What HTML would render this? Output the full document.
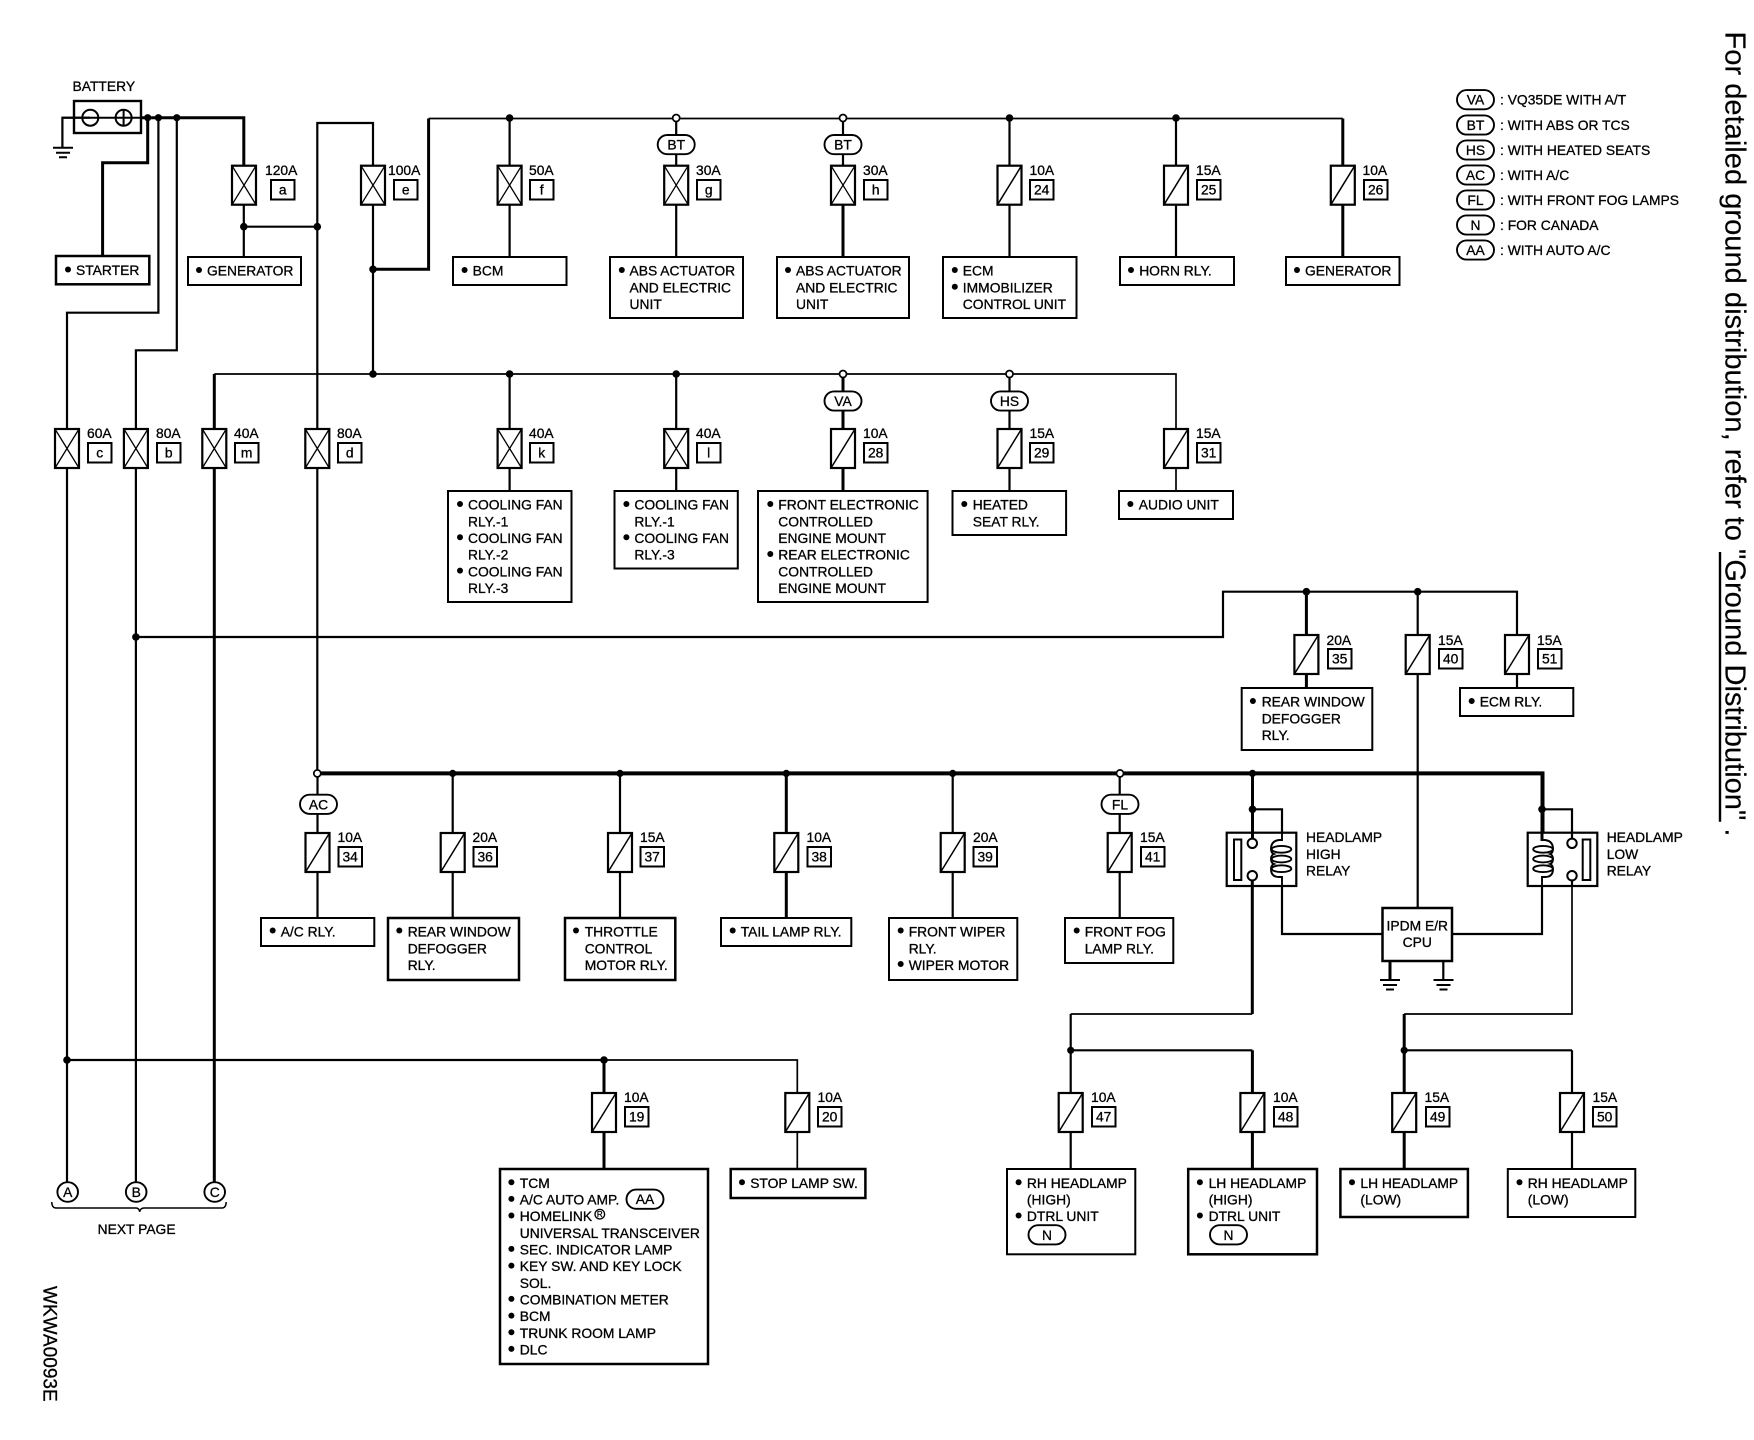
<!DOCTYPE html>
<html><head><meta charset="utf-8"><title>Wiring</title>
<style>
html,body{margin:0;padding:0;background:#fff}
svg{display:block}
text{font-family:"Liberation Sans",Arial,sans-serif;font-size:13.85px;fill:#000;stroke:#000;stroke-width:.3}
.w{fill:none;stroke:#000}
.s1{stroke-width:1.7}.s2{stroke-width:2.2}.s3{stroke-width:3}.s4{stroke-width:4}
.b{fill:#fff;stroke:#000;stroke-width:2}
.t{fill:#fff;stroke:#000;stroke-width:2.5}
.d{fill:#000}
</style></head><body>
<svg width="1754" height="1440" viewBox="0 0 1754 1440" xmlns="http://www.w3.org/2000/svg">
<defs>
<g id="x"><rect x="-12" y="0" width="24" height="39" fill="#fff" stroke="#000" stroke-width="2.2"/><path d="M-12 0L12 39M12 0L-12 39" stroke="#000" stroke-width="1.3"/></g>
<g id="s"><rect x="-12" y="0" width="24" height="39" fill="#fff" stroke="#000" stroke-width="2.2"/><path d="M12 0L-12 39" stroke="#000" stroke-width="1.5"/></g>
<g id="n"><rect x="0" y="0" width="23.5" height="19.5" fill="#fff" stroke="#000" stroke-width="2"/></g>
<g id="ov"><rect x="-18.5" y="-9.6" width="37" height="19.2" rx="9.6" fill="#fff" stroke="#000" stroke-width="1.9"/></g>
<g id="gnd"><path d="M-10 0H10M-7 5H7M-4 9.5H4" stroke="#000" stroke-width="2" fill="none"/></g>
</defs>

<!-- wires -->
<path class="w s2" d="M90 117.7H62.4V147"/>
<path class="w s3" d="M141 117.7H243.8V166"/>
<path class="w s3" d="M147.7 117.7V162.7H102.6V256"/>
<path class="w s2" d="M158.4 117.7V312.7H67V1182"/>
<path class="w s2" d="M176.8 117.7V350.3H135.9V1182"/>
<path class="w s2" d="M243.8 204V257"/>
<path class="w s2" d="M243.8 226.7H317.3"/>
<path class="w s2" d="M373 166V123H317.3V773"/>
<path class="w s2" d="M373 204V374"/>
<path class="w s3" d="M373 269.3H428.6V118.5"/>
<path class="w s1" d="M428.6 118.5H1342.8"/>
<path class="w s3" d="M1342.8 118.5V257"/>
<path class="w s2" d="M509.6 118.5V257M676.2 118.5V257M1009.5 118.5V257M1176 118.5V257"/>
<path class="w s2" d="M843 118.5V166"/>
<path class="w s3" d="M843 204V257"/>
<path class="w s1" d="M214.3 374H1176V491"/>
<path class="w s3" d="M214.3 374V1182"/>
<path class="w s2" d="M509.6 374V491M676.2 374V491M1009.5 374V491"/>
<path class="w s3" d="M843 374V491"/>
<path class="w s2" d="M135.9 637H1223V591.7H1517V688"/>
<path class="w s3" d="M1306.4 591.7V688"/>
<path class="w s2" d="M1417.7 591.7V908"/>
<path class="w s4" d="M317.3 773.4H1542.5V842"/>
<path class="w s3" d="M1252.5 773.4V843"/>
<path class="w s2" d="M317.5 773V918M452.7 773V918M620 773V918M952.7 773V918M1119.7 773V918"/>
<path class="w s3" d="M786.3 773V918"/>
<path class="w s2" d="M67 1060H604"/>
<path class="w s1" d="M604 1060H797.3V1169"/>
<path class="w s3" d="M604 1060V1169"/>
<path class="w s3" d="M1252.3 880V1014"/>
<path class="w s1" d="M1252.3 1014H1070.7"/>
<path class="w s2" d="M1070.7 1014V1169"/>
<path class="w s2" d="M1070.7 1050.3H1252.4"/>
<path class="w s3" d="M1252.4 1050.3V1169"/>
<path class="w s1" d="M1572 880V1014H1404.2"/>
<path class="w s3" d="M1404.2 1014V1169"/>
<path class="w s2" d="M1404.2 1050.3H1572"/>
<path class="w s2" d="M1572 1050.3V1169"/>
<path class="w s2" d="M1252.5 809.3H1282V842"/>
<path class="w s2" d="M1542 809.3H1572V843"/>
<path class="w s2" d="M1282 877V934H1383M1452 934H1542V877"/>
<path class="w s3" d="M1390 961V980"/>
<path class="w s2" d="M1443.3 961V980"/>

<!-- junctions -->
<g class="d">
<circle cx="147.7" cy="117.7" r="3.6"/><circle cx="158.4" cy="117.7" r="3.6"/><circle cx="176.8" cy="117.7" r="3.6"/>
<circle cx="243.8" cy="226.7" r="3.8"/><circle cx="317.3" cy="226.7" r="3.8"/><circle cx="373" cy="269.3" r="3.8"/>
<circle cx="373" cy="374" r="3.8"/><circle cx="509.6" cy="118" r="3.8"/><circle cx="1009.5" cy="118" r="3.8"/><circle cx="1176" cy="118" r="3.8"/>
<circle cx="509.6" cy="374" r="3.8"/><circle cx="676.2" cy="374" r="3.8"/>
<circle cx="135.9" cy="637" r="3.8"/><circle cx="1306.4" cy="591.7" r="3.8"/><circle cx="1417.7" cy="591.7" r="3.8"/>
<circle cx="452.7" cy="773.4" r="3.6"/><circle cx="620" cy="773.4" r="3.6"/><circle cx="786.3" cy="773.4" r="3.6"/><circle cx="952.7" cy="773.4" r="3.6"/><circle cx="1252.5" cy="773.4" r="3.6"/>
<circle cx="1252.5" cy="809.3" r="3.8"/><circle cx="1542" cy="809.3" r="3.8"/>
<circle cx="67" cy="1060" r="3.8"/><circle cx="604" cy="1060" r="3.8"/><circle cx="1070.7" cy="1050.3" r="3.6"/><circle cx="1404.2" cy="1050.3" r="3.6"/>
</g>
<g fill="#fff" stroke="#000" stroke-width="1.7">
<circle cx="676.2" cy="118" r="3.5"/><circle cx="843" cy="118" r="3.5"/><circle cx="843" cy="374" r="3.5"/><circle cx="1009.5" cy="374" r="3.5"/><circle cx="317.3" cy="773.4" r="3.5"/><circle cx="1120" cy="773.4" r="3.5"/>
</g>

<!-- battery -->
<text x="72.5" y="91">BATTERY</text>
<rect x="74" y="101" width="67" height="32" fill="none" stroke="#000" stroke-width="2.4"/>
<path d="M62.4 117.7H141" stroke="#000" stroke-width="2"/>
<circle cx="90.3" cy="117.7" r="8" fill="none" stroke="#000" stroke-width="2"/>
<circle cx="123.6" cy="117.7" r="8" fill="none" stroke="#000" stroke-width="2"/>
<path d="M123.6 109.7V125.7" stroke="#000" stroke-width="2"/>
<use href="#gnd" x="63" y="147.7"/>

<!-- fuses -->
<use href="#x" x="244" y="165.7"/><use href="#x" x="373" y="165.7"/><use href="#x" x="509.6" y="165.7"/><use href="#x" x="676.2" y="165.7"/><use href="#x" x="843" y="165.7"/>
<use href="#s" x="1009.5" y="165.7"/><use href="#s" x="1176" y="165.7"/><use href="#s" x="1342.8" y="165.7"/>
<use href="#x" x="67" y="429"/><use href="#x" x="135.9" y="429"/><use href="#x" x="214.3" y="429"/><use href="#x" x="317.3" y="429"/><use href="#x" x="509.6" y="429"/><use href="#x" x="676.2" y="429"/>
<use href="#s" x="843" y="429"/><use href="#s" x="1009.5" y="429"/><use href="#s" x="1176" y="429"/>
<use href="#s" x="1306.4" y="635"/><use href="#s" x="1417.7" y="635"/><use href="#s" x="1517" y="635"/>
<use href="#s" x="317.5" y="833"/><use href="#s" x="452.7" y="833"/><use href="#s" x="620" y="833"/><use href="#s" x="786.3" y="833"/><use href="#s" x="952.7" y="833"/><use href="#s" x="1119.7" y="833"/>
<use href="#s" x="604" y="1093"/><use href="#s" x="797.3" y="1093"/><use href="#s" x="1070.7" y="1093"/><use href="#s" x="1252.4" y="1093"/><use href="#s" x="1404.2" y="1093"/><use href="#s" x="1572" y="1093"/>

<!-- fuse label boxes -->
<use href="#n" x="271" y="180"/><use href="#n" x="394" y="180"/><use href="#n" x="530" y="180"/><use href="#n" x="697" y="180"/><use href="#n" x="864" y="180"/><use href="#n" x="1030" y="180"/><use href="#n" x="1197" y="180"/><use href="#n" x="1364" y="180"/>
<use href="#n" x="88" y="443"/><use href="#n" x="157" y="443"/><use href="#n" x="235" y="443"/><use href="#n" x="338" y="443"/><use href="#n" x="530" y="443"/><use href="#n" x="697" y="443"/><use href="#n" x="864" y="443"/><use href="#n" x="1030" y="443"/><use href="#n" x="1197" y="443"/>
<use href="#n" x="1328" y="649"/><use href="#n" x="1439" y="649"/><use href="#n" x="1538" y="649"/>
<use href="#n" x="338.5" y="847"/><use href="#n" x="473.5" y="847"/><use href="#n" x="640.5" y="847"/><use href="#n" x="807.5" y="847"/><use href="#n" x="973.5" y="847"/><use href="#n" x="1141" y="847"/>
<use href="#n" x="625" y="1107"/><use href="#n" x="818" y="1107"/><use href="#n" x="1092" y="1107"/><use href="#n" x="1274" y="1107"/><use href="#n" x="1426" y="1107"/><use href="#n" x="1593" y="1107"/>

<!-- amp labels -->
<text x="265" y="175">120A</text><text x="388" y="175">100A</text><text x="529" y="175">50A</text><text x="696" y="175">30A</text><text x="863" y="175">30A</text><text x="1029.5" y="175">10A</text><text x="1196" y="175">15A</text><text x="1362.5" y="175">10A</text>
<text x="87" y="438">60A</text><text x="156" y="438">80A</text><text x="234" y="438">40A</text><text x="337" y="438">80A</text><text x="529" y="438">40A</text><text x="696" y="438">40A</text><text x="863" y="438">10A</text><text x="1029.5" y="438">15A</text><text x="1196" y="438">15A</text>
<text x="1326.5" y="645">20A</text><text x="1438" y="645">15A</text><text x="1537" y="645">15A</text>
<text x="337.5" y="842">10A</text><text x="472.5" y="842">20A</text><text x="640" y="842">15A</text><text x="806.5" y="842">10A</text><text x="973" y="842">20A</text><text x="1140" y="842">15A</text>
<text x="624" y="1102">10A</text><text x="817.5" y="1102">10A</text><text x="1091" y="1102">10A</text><text x="1273" y="1102">10A</text><text x="1424.5" y="1102">15A</text><text x="1592.5" y="1102">15A</text>

<!-- fuse label ids -->
<g>
<text x="282.7" y="194.5" text-anchor="middle">a</text><text x="405.7" y="194.5" text-anchor="middle">e</text><text x="541.7" y="194.5" text-anchor="middle">f</text><text x="708.7" y="194.5" text-anchor="middle">g</text><text x="875.7" y="194.5" text-anchor="middle">h</text><text x="1041.7" y="194.5" text-anchor="middle">24</text><text x="1208.7" y="194.5" text-anchor="middle">25</text><text x="1375.7" y="194.5" text-anchor="middle">26</text>
<text x="99.7" y="457.5" text-anchor="middle">c</text><text x="168.7" y="457.5" text-anchor="middle">b</text><text x="246.7" y="457.5" text-anchor="middle">m</text><text x="349.7" y="457.5" text-anchor="middle">d</text><text x="541.7" y="457.5" text-anchor="middle">k</text><text x="708.7" y="457.5" text-anchor="middle">l</text><text x="875.7" y="457.5" text-anchor="middle">28</text><text x="1041.7" y="457.5" text-anchor="middle">29</text><text x="1208.7" y="457.5" text-anchor="middle">31</text>
<text x="1339.7" y="663.5" text-anchor="middle">35</text><text x="1450.7" y="663.5" text-anchor="middle">40</text><text x="1549.7" y="663.5" text-anchor="middle">51</text>
<text x="350.2" y="861.5" text-anchor="middle">34</text><text x="485.2" y="861.5" text-anchor="middle">36</text><text x="652.2" y="861.5" text-anchor="middle">37</text><text x="819.2" y="861.5" text-anchor="middle">38</text><text x="985.2" y="861.5" text-anchor="middle">39</text><text x="1152.7" y="861.5" text-anchor="middle">41</text>
<text x="636.7" y="1121.5" text-anchor="middle">19</text><text x="829.7" y="1121.5" text-anchor="middle">20</text><text x="1103.7" y="1121.5" text-anchor="middle">47</text><text x="1285.7" y="1121.5" text-anchor="middle">48</text><text x="1437.7" y="1121.5" text-anchor="middle">49</text><text x="1604.7" y="1121.5" text-anchor="middle">50</text>
</g>

<!-- ovals -->
<use href="#ov" x="676.2" y="144.6"/><text x="676.2" y="149.6" text-anchor="middle">BT</text>
<use href="#ov" x="843" y="144.6"/><text x="843" y="149.6" text-anchor="middle">BT</text>
<use href="#ov" x="843" y="401"/><text x="843" y="406" text-anchor="middle">VA</text>
<use href="#ov" x="1009.5" y="401"/><text x="1009.5" y="406" text-anchor="middle">HS</text>
<use href="#ov" x="318.5" y="804.3"/><text x="318.5" y="809.3" text-anchor="middle">AC</text>
<use href="#ov" x="1120" y="804.3"/><text x="1120" y="809.3" text-anchor="middle">FL</text>

<!-- boxes row 1 -->
<rect class="t" x="56" y="256" width="93.3" height="28.3"/>
<rect class="b" x="188" y="257" width="113" height="28"/>
<rect class="b" x="453" y="257" width="113.5" height="28"/>
<rect class="b" x="610" y="257" width="133" height="61"/>
<rect class="b" x="777" y="257" width="132" height="61"/>
<rect class="b" x="943" y="257" width="133.5" height="61"/>
<rect class="b" x="1120" y="257" width="114" height="28"/>
<rect class="b" x="1286" y="257" width="113.5" height="28"/>
<g transform="translate(0,-1)">
<g class="d">
<circle cx="68" cy="270.5" r="3"/><circle cx="199" cy="271" r="3"/><circle cx="464.6" cy="271" r="3"/><circle cx="621.8" cy="271" r="3"/><circle cx="788" cy="271" r="3"/><circle cx="954.8" cy="271" r="3"/><circle cx="954.8" cy="287.7" r="3"/><circle cx="1131" cy="271" r="3"/><circle cx="1297" cy="271" r="3"/>
</g>
<text x="76" y="276">STARTER</text>
<text x="207" y="276.7">GENERATOR</text>
<text x="472.6" y="276.7">BCM</text>
<text x="629.5" y="276.7">ABS ACTUATOR</text><text x="629.5" y="293.4">AND ELECTRIC</text><text x="629.5" y="310">UNIT</text>
<text x="796" y="276.7">ABS ACTUATOR</text><text x="796" y="293.4">AND ELECTRIC</text><text x="796" y="310">UNIT</text>
<text x="962.8" y="276.7">ECM</text><text x="962.8" y="293.4">IMMOBILIZER</text><text x="962.8" y="310">CONTROL UNIT</text>
<text x="1139.2" y="276.7">HORN RLY.</text>
<text x="1305" y="276.7">GENERATOR</text>
</g>

<!-- boxes row 2 -->
<rect class="b" x="448" y="491" width="123.5" height="111"/>
<rect class="b" x="614.5" y="491" width="123.3" height="77.5"/>
<rect class="b" x="758" y="491" width="169.6" height="111"/>
<rect class="b" x="952.5" y="491" width="113.6" height="44"/>
<rect class="b" x="1119" y="491" width="114" height="28"/>
<g transform="translate(0,-1)">
<g class="d">
<circle cx="460" cy="505" r="3"/><circle cx="460" cy="538.3" r="3"/><circle cx="460" cy="571.6" r="3"/>
<circle cx="626.4" cy="505" r="3"/><circle cx="626.4" cy="538.3" r="3"/>
<circle cx="770.3" cy="505" r="3"/><circle cx="770.3" cy="555" r="3"/>
<circle cx="964.3" cy="505" r="3"/><circle cx="1130.4" cy="505" r="3"/>
</g>
<text x="468" y="510.7">COOLING FAN</text><text x="468" y="527.4">RLY.-1</text><text x="468" y="544">COOLING FAN</text><text x="468" y="560.7">RLY.-2</text><text x="468" y="577.4">COOLING FAN</text><text x="468" y="594">RLY.-3</text>
<text x="634.4" y="510.7">COOLING FAN</text><text x="634.4" y="527.4">RLY.-1</text><text x="634.4" y="544">COOLING FAN</text><text x="634.4" y="560.7">RLY.-3</text>
<text x="778.3" y="510.7">FRONT ELECTRONIC</text><text x="778.3" y="527.4">CONTROLLED</text><text x="778.3" y="544">ENGINE MOUNT</text><text x="778.3" y="560.7">REAR ELECTRONIC</text><text x="778.3" y="577.4">CONTROLLED</text><text x="778.3" y="594">ENGINE MOUNT</text>
<text x="972.8" y="510.7">HEATED</text><text x="972.8" y="527.4">SEAT RLY.</text>
<text x="1138.8" y="510.7">AUDIO UNIT</text>
</g>

<!-- boxes row 3 -->
<rect class="b" x="1241.7" y="688" width="130.6" height="62"/>
<rect class="b" x="1460" y="688" width="113.3" height="28"/>
<g transform="translate(0,-1)">
<circle class="d" cx="1252.9" cy="702" r="3"/><circle class="d" cx="1471.7" cy="702" r="3"/>
<text x="1261.7" y="707.7">REAR WINDOW</text><text x="1261.7" y="724.4">DEFOGGER</text><text x="1261.7" y="741">RLY.</text>
<text x="1479.7" y="707.7">ECM RLY.</text>
</g>

<!-- boxes row 4 -->
<rect class="b" x="261" y="918" width="113.3" height="28"/>
<rect class="t" x="388" y="918" width="131" height="62"/>
<rect class="t" x="565" y="918" width="110.3" height="62"/>
<rect class="b" x="721" y="918" width="130.3" height="28"/>
<rect class="b" x="889" y="918" width="128.3" height="62"/>
<rect class="b" x="1065" y="918" width="108.3" height="45"/>
<g transform="translate(0,-1)">
<g class="d">
<circle cx="272.7" cy="931.5" r="3"/><circle cx="399.3" cy="931.5" r="3"/><circle cx="576" cy="931.5" r="3"/><circle cx="732.7" cy="931.5" r="3"/><circle cx="900.7" cy="931.5" r="3"/><circle cx="900.7" cy="965" r="3"/><circle cx="1076.7" cy="931.5" r="3"/>
</g>
<text x="280.7" y="937.7">A/C RLY.</text>
<text x="407.7" y="937.7">REAR WINDOW</text><text x="407.7" y="954.4">DEFOGGER</text><text x="407.7" y="971">RLY.</text>
<text x="584.7" y="937.7">THROTTLE</text><text x="584.7" y="954.4">CONTROL</text><text x="584.7" y="971">MOTOR RLY.</text>
<text x="740.7" y="937.7">TAIL LAMP RLY.</text>
<text x="908.7" y="937.7">FRONT WIPER</text><text x="908.7" y="954.4">RLY.</text><text x="908.7" y="971">WIPER MOTOR</text>
<text x="1084.7" y="937.7">FRONT FOG</text><text x="1084.7" y="954.4">LAMP RLY.</text>
</g>

<!-- relays -->
<rect x="1226.7" y="832.7" width="69.6" height="53.3" fill="#fff" stroke="#000" stroke-width="2.2"/>
<rect x="1234" y="839.5" width="7.3" height="40.5" fill="#fff" stroke="#000" stroke-width="2"/>
<path class="w s3" d="M1252.5 832V839"/>
<circle cx="1252.3" cy="843.3" r="4.7" fill="#fff" stroke="#000" stroke-width="2"/>
<circle cx="1252.3" cy="875.7" r="4.7" fill="#fff" stroke="#000" stroke-width="2"/>
<path class="w s3" d="M1252.3 880V887"/>
<g fill="none" stroke="#000" stroke-width="1.9">
<path d="M1282 832V840H1279Q1271 841 1271 849Q1271 853 1274 854Q1271 855 1271 859Q1271 863 1274 864Q1271 865 1271 869Q1271 877 1279 877H1282V887"/>
<ellipse cx="1281.5" cy="849.3" rx="9.8" ry="3.4"/><ellipse cx="1281.5" cy="859" rx="9.8" ry="3.4"/><ellipse cx="1281.5" cy="868.7" rx="9.8" ry="3.4"/>
</g>
<text x="1306" y="842.2">HEADLAMP</text><text x="1306" y="858.9">HIGH</text><text x="1306" y="875.5">RELAY</text>

<rect x="1527.7" y="832.7" width="69.6" height="53.3" fill="#fff" stroke="#000" stroke-width="2.2"/>
<rect x="1582.7" y="839.5" width="7.6" height="40.5" fill="#fff" stroke="#000" stroke-width="2"/>
<path class="w s3" d="M1542 832V841"/><path class="w s2" d="M1572 832V839M1572 880V887"/>
<circle cx="1572" cy="843.3" r="4.7" fill="#fff" stroke="#000" stroke-width="2"/>
<circle cx="1572" cy="875.7" r="4.7" fill="#fff" stroke="#000" stroke-width="2"/>
<g fill="none" stroke="#000" stroke-width="1.9">
<path d="M1542 840H1545Q1553 841 1553 849Q1553 853 1550 854Q1553 855 1553 859Q1553 863 1550 864Q1553 865 1553 869Q1553 877 1545 877H1542V887"/>
<ellipse cx="1543" cy="849.3" rx="9.8" ry="3.4"/><ellipse cx="1543" cy="859" rx="9.8" ry="3.4"/><ellipse cx="1543" cy="868.7" rx="9.8" ry="3.4"/>
</g>
<text x="1606.7" y="842.2">HEADLAMP</text><text x="1606.7" y="858.9">LOW</text><text x="1606.7" y="875.5">RELAY</text>

<!-- IPDM -->
<rect class="t" x="1382.5" y="908" width="69.5" height="53"/>
<text x="1417.3" y="930.5" text-anchor="middle">IPDM E/R</text><text x="1417.3" y="947" text-anchor="middle">CPU</text>
<use href="#gnd" x="1390" y="980"/><use href="#gnd" x="1443.5" y="980"/>

<!-- bottom boxes -->
<rect class="t" x="500" y="1169" width="208" height="195"/>
<rect class="t" x="730.7" y="1169" width="134.7" height="29"/>
<rect class="b" x="1007" y="1169" width="128.3" height="85.3"/>
<rect class="t" x="1188.2" y="1169" width="128.8" height="85.3"/>
<rect class="t" x="1340.4" y="1169" width="127.5" height="48"/>
<rect class="b" x="1507.8" y="1169" width="127.5" height="48"/>
<g transform="translate(0,-0.8)">
<g class="d">
<circle cx="511.4" cy="1183" r="3"/><circle cx="511.4" cy="1199.7" r="3"/><circle cx="511.4" cy="1216.3" r="3"/><circle cx="511.4" cy="1249.7" r="3"/><circle cx="511.4" cy="1266.4" r="3"/><circle cx="511.4" cy="1299.7" r="3"/><circle cx="511.4" cy="1316.4" r="3"/><circle cx="511.4" cy="1333" r="3"/><circle cx="511.4" cy="1349.7" r="3"/>
<circle cx="742" cy="1183" r="3"/><circle cx="1018.6" cy="1183" r="3"/><circle cx="1018.6" cy="1216.3" r="3"/><circle cx="1199.9" cy="1183" r="3"/><circle cx="1199.9" cy="1216.3" r="3"/><circle cx="1352" cy="1183" r="3"/><circle cx="1519.5" cy="1183" r="3"/>
</g>
<text x="519.8" y="1188.7">TCM</text>
<text x="519.8" y="1205.4">A/C AUTO AMP.</text>
<text x="519.8" y="1222">HOMELINK</text>
<circle cx="599.8" cy="1215" r="4.8" fill="none" stroke="#000" stroke-width="1.3"/><text x="599.8" y="1218" text-anchor="middle" style="font-size:8px">R</text>
<text x="519.8" y="1238.7">UNIVERSAL TRANSCEIVER</text>
<text x="519.8" y="1255.4">SEC. INDICATOR LAMP</text>
<text x="519.8" y="1272">KEY SW. AND KEY LOCK</text>
<text x="519.8" y="1288.7">SOL.</text>
<text x="519.8" y="1305.4">COMBINATION METER</text>
<text x="519.8" y="1322">BCM</text>
<text x="519.8" y="1338.7">TRUNK ROOM LAMP</text>
<text x="519.8" y="1355.4">DLC</text>
<use href="#ov" x="645" y="1200"/><text x="645" y="1205" text-anchor="middle">AA</text>
<text x="750.2" y="1188.7">STOP LAMP SW.</text>
<text x="1026.9" y="1188.7">RH HEADLAMP</text><text x="1026.9" y="1205.4">(HIGH)</text><text x="1026.9" y="1222">DTRL UNIT</text>
<use href="#ov" x="1047" y="1235.6"/><text x="1047" y="1240.6" text-anchor="middle">N</text>
<text x="1208.6" y="1188.7">LH HEADLAMP</text><text x="1208.6" y="1205.4">(HIGH)</text><text x="1208.6" y="1222">DTRL UNIT</text>
<use href="#ov" x="1228.5" y="1235.6"/><text x="1228.5" y="1240.6" text-anchor="middle">N</text>
<text x="1360.4" y="1188.7">LH HEADLAMP</text><text x="1360.4" y="1205.4">(LOW)</text>
<text x="1527.8" y="1188.7">RH HEADLAMP</text><text x="1527.8" y="1205.4">(LOW)</text>
</g>

<!-- connectors -->
<g fill="#fff" stroke="#000" stroke-width="1.9">
<ellipse cx="67.7" cy="1192" rx="10.3" ry="9.8"/><ellipse cx="136.2" cy="1192" rx="10.3" ry="9.8"/><ellipse cx="214.7" cy="1192" rx="10.3" ry="9.8"/>
</g>
<text x="67.7" y="1197" text-anchor="middle">A</text><text x="136.2" y="1197" text-anchor="middle">B</text><text x="214.7" y="1197" text-anchor="middle">C</text>
<path d="M51.7 1202Q52 1208 56 1208H136Q139 1208 139.7 1211.7Q140.5 1208 144 1208H222Q226 1208 226.2 1202" fill="none" stroke="#000" stroke-width="1.5"/>
<text x="97.6" y="1234">NEXT PAGE</text>

<!-- legend -->
<use href="#ov" x="1475.5" y="99.7"/><text x="1475.5" y="104.7" text-anchor="middle">VA</text><text x="1500" y="104.7">: VQ35DE WITH A/T</text>
<use href="#ov" x="1475.5" y="125"/><text x="1475.5" y="130" text-anchor="middle">BT</text><text x="1500" y="130">: WITH ABS OR TCS</text>
<use href="#ov" x="1475.5" y="150"/><text x="1475.5" y="155" text-anchor="middle">HS</text><text x="1500" y="155">: WITH HEATED SEATS</text>
<use href="#ov" x="1475.5" y="175"/><text x="1475.5" y="180" text-anchor="middle">AC</text><text x="1500" y="180">: WITH A/C</text>
<use href="#ov" x="1475.5" y="200"/><text x="1475.5" y="205" text-anchor="middle">FL</text><text x="1500" y="205">: WITH FRONT FOG LAMPS</text>
<use href="#ov" x="1475.5" y="225"/><text x="1475.5" y="230" text-anchor="middle">N</text><text x="1500" y="230">: FOR CANADA</text>
<use href="#ov" x="1475.5" y="250"/><text x="1475.5" y="255" text-anchor="middle">AA</text><text x="1500" y="255">: WITH AUTO A/C</text>

<!-- rotated text -->
<text transform="translate(43.5,1286) rotate(90)" style="font-size:19px" textLength="115.7" lengthAdjust="spacingAndGlyphs">WKWA0093E</text>
<text transform="translate(1725.4,31.5) rotate(90)" style="font-size:29.1px;stroke-width:.15">For detailed ground distribution, refer to "Ground Distribution" .</text>
<path d="M1720 552V821.7" stroke="#000" stroke-width="2.4"/>
</svg>
</body></html>
